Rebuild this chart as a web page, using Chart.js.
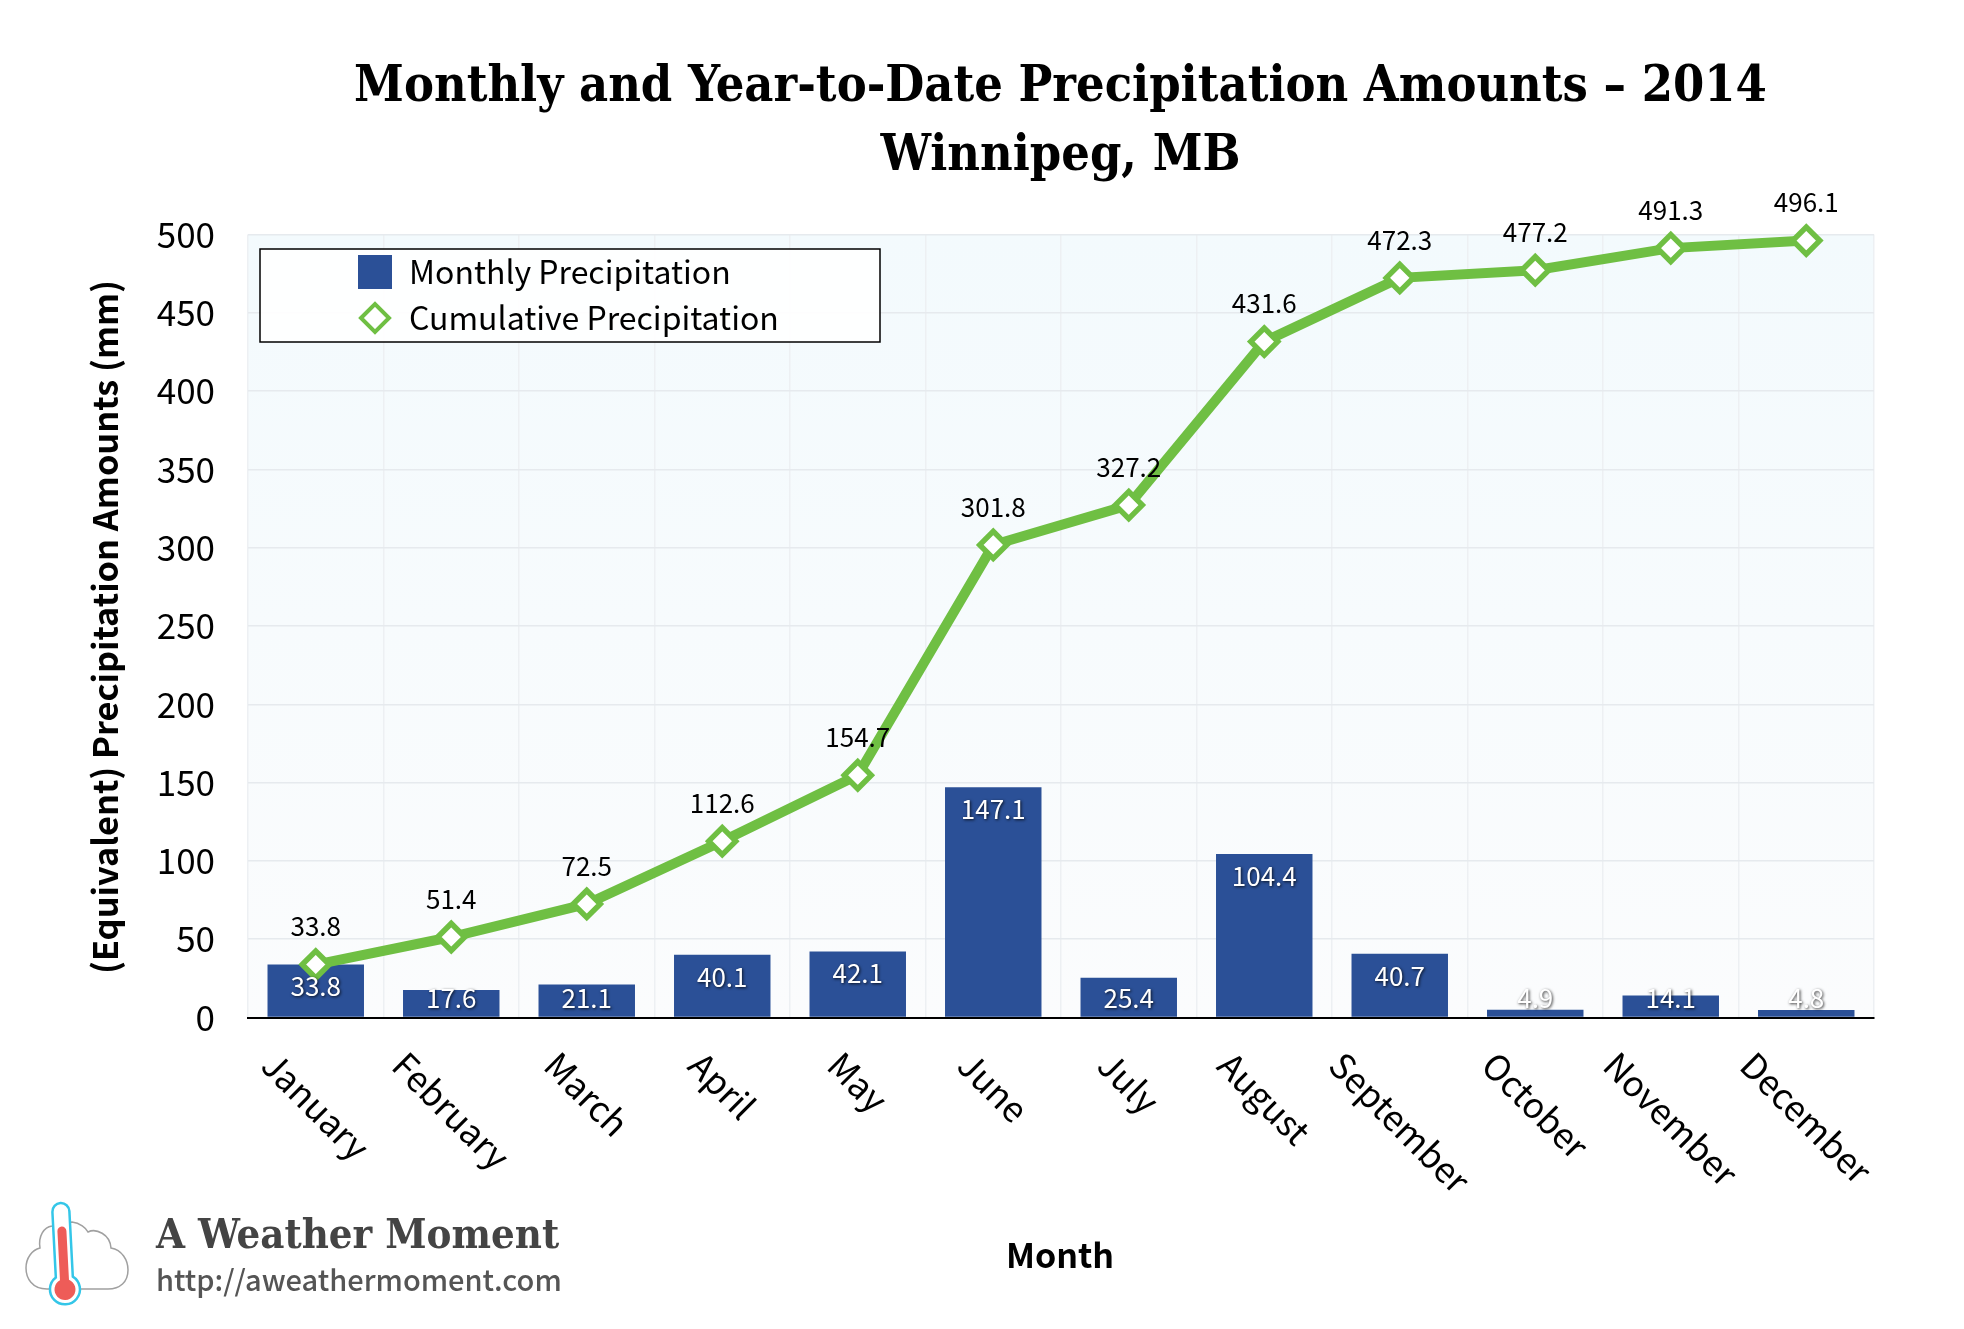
<!DOCTYPE html>
<html>
<head>
<meta charset="utf-8">
<title>Monthly and Year-to-Date Precipitation Amounts</title>
<script src="https://cdn.jsdelivr.net/npm/chart.js@4/dist/chart.umd.min.js"></script>
<style>
    html, body { margin: 0; padding: 0; background: #fff; }
    #wrap { position: relative; width: 1964px; height: 1329px; overflow: hidden; }
    #logo-icon { position: absolute; left: 10px; top: 1190px; }
    #logo-name, #logo-url { position: absolute; left: 156px; white-space: nowrap; }
    #logo-name { top: 1206px; font: bold 41.5px/56px 'DejaVu Serif Condensed', 'DejaVu Serif', serif; color: #444; }
    #logo-url { top: 1256px; font: 500 29px/44px 'Noto Sans CJK SC', sans-serif; color: #555; }
</style>
</head>
<body>
<div id="wrap">
    <canvas id="chart" width="1964" height="1329"></canvas>
    <svg id="logo-icon" width="140" height="130" viewBox="0 0 140 130">
        <path d="M37 99 C22 99 16 88 16 78 C16 68 22 60 30 58 C28 46 34 37 42 36 L62 32 C70 33 76 38 78 42 C86 38 100 44 101 58 C112 60 118 70 118 80 C118 92 110 99 98 99 Z" fill="#fff" stroke="#a0a0a0" stroke-width="1.5"/>
        <g transform="rotate(-3 55 100)">
            <path d="M46.5 21.5 a8.5 8.5 0 0 1 17 0 V87 a15 15 0 1 1 -17 0 Z" fill="#fff" stroke="#34c6e8" stroke-width="2.5"/>
            <path d="M50.5 41 a4.5 4.5 0 0 1 9 0 V90 a10.5 10.5 0 1 1 -9 0 Z" fill="#ee5c58"/>
        </g>
    </svg>
    <div id="logo-name">A Weather Moment</div>
    <div id="logo-url">http://aweathermoment.com</div>
</div>
<script>
const months = ['January', 'February', 'March', 'April', 'May', 'June', 'July', 'August', 'September', 'October', 'November', 'December'];
const monthly = [33.8, 17.6, 21.1, 40.1, 42.1, 147.1, 25.4, 104.4, 40.7, 4.9, 14.1, 4.8];
const cumulative = [33.8, 51.4, 72.5, 112.6, 154.7, 301.8, 327.2, 431.6, 472.3, 477.2, 491.3, 496.1];
const titleLines = ['Monthly and Year-to-Date Precipitation Amounts \u2013 2014', 'Winnipeg, MB'];

const sansFont = "'Noto Sans CJK SC', 'Noto Sans', sans-serif";
const blue = '#2b5097';
const green = '#6fbf43';

// plot background, pale blue fading downwards
const plotBackground = {
    id: 'plotBackground',
    beforeDraw(chart) {
        const { ctx, chartArea: a } = chart;
        const fill = ctx.createLinearGradient(0, a.top, 0, a.bottom);
        fill.addColorStop(0, '#f3fafd');
        fill.addColorStop(1, '#fbfcfd');
        ctx.save();
        ctx.fillStyle = fill;
        ctx.fillRect(a.left, a.top, a.right - a.left, a.bottom - a.top);
        ctx.restore();
    },
};

// value labels over the line points and inside the bars
const valueLabels = {
    id: 'valueLabels',
    afterDatasetsDraw(chart) {
        const { ctx } = chart;
        ctx.save();
        ctx.font = '26px ' + sansFont;
        ctx.textAlign = 'center';
        ctx.textBaseline = 'middle';

        chart.getDatasetMeta(0).data.forEach((bar, i) => {
            ctx.save();
            ctx.shadowColor = 'rgba(0, 0, 0, 0.8)';
            ctx.shadowBlur = 3;
            ctx.shadowOffsetX = 1;
            ctx.shadowOffsetY = 1;
            ctx.fillStyle = '#fff';
            ctx.fillText(monthly[i].toFixed(1), bar.x, Math.min(bar.y + 22, 998));
            ctx.restore();
        });

        ctx.fillStyle = '#000';
        chart.getDatasetMeta(1).data.forEach((pt, i) => {
            ctx.fillText(cumulative[i].toFixed(1), pt.x, pt.y - 38);
        });
        ctx.restore();
    },
};

// boxed legend sitting inside the plot
const boxLegend = {
    id: 'boxLegend',
    afterDraw(chart) {
        const { ctx } = chart;
        const sets = chart.data.datasets;
        ctx.save();
        ctx.fillStyle = 'rgba(255, 255, 255, 0.9)';
        ctx.fillRect(260, 249, 620, 93);
        ctx.strokeStyle = '#000';
        ctx.lineWidth = 1.5;
        ctx.strokeRect(260, 249, 620, 93);

        ctx.fillStyle = sets[0].backgroundColor;
        ctx.fillRect(358, 255, 34, 34);

        ctx.fillStyle = '#fff';
        ctx.strokeStyle = sets[1].borderColor;
        ctx.lineWidth = 4;
        Chart.helpers.drawPoint(ctx, {
            pointStyle: 'rectRot',
            radius: 14,
            borderWidth: 4,
        }, 375, 318);

        ctx.fillStyle = '#000';
        ctx.font = '32px ' + sansFont;
        ctx.textBaseline = 'middle';
        ctx.fillText(sets[0].label, 409, 272);
        ctx.fillText(sets[1].label, 409, 318);
        ctx.restore();
    },
};

// shift a scale title so it lines up with the reference
function nudgeTitle(scale, dx, dy) {
    if (scale.nudged) {
        return;
    }
    const drawTitle = scale.drawTitle;
    scale.drawTitle = function () {
        this.ctx.save();
        this.ctx.translate(dx, dy);
        drawTitle.call(this);
        this.ctx.restore();
    };
    scale.nudged = true;
}

// month labels are centred on the tick, slanted down to the right,
// with their top corners on one common line
function centreSlantedTicks(scale) {
    if (scale.slanted) {
        return;
    }
    const compute = scale._computeLabelItems;
    scale._computeLabelItems = function (area) {
        const items = compute.call(this, area);
        items.forEach((item, i) => {
            this.ctx.font = item.font.string;
            const width = this.ctx.measureText(item.label).width;
            const reach = (width + 26) * Math.SQRT1_2;
            item.textOffset = 0;
            item.options.textAlign = 'center';
            item.options.textBaseline = 'middle';
            item.options.translation = [this.getPixelForTick(i), this.bottom - this.height + 32 + reach / 2];
        });
        return items;
    };
    scale.slanted = true;
}

const chart = new Chart(document.getElementById('chart'), {
    data: {
        labels: months,
        datasets: [
            {
                type: 'bar',
                label: 'Monthly Precipitation',
                data: monthly,
                backgroundColor: blue,
                categoryPercentage: 1,
                barPercentage: 0.712,
                order: 2,
            },
            {
                type: 'line',
                label: 'Cumulative Precipitation',
                data: cumulative,
                borderColor: green,
                borderWidth: 10,
                tension: 0,
                clip: false,
                pointStyle: 'rectRot',
                pointRadius: 13.5,
                pointBackgroundColor: '#fff',
                pointBorderColor: green,
                pointBorderWidth: 5.5,
                order: 1,
            },
        ],
    },
    options: {
        responsive: false,
        animation: false,
        devicePixelRatio: 1,
        events: [],
        layout: {
            padding: { left: 70, right: 90, top: 0, bottom: 0 },
        },
        plugins: {
            legend: { display: false },
            tooltip: { enabled: false },
            title: {
                display: true,
                text: titleLines,
                color: '#000',
                font: { family: "'DejaVu Serif Condensed', 'DejaVu Serif', serif", size: 50, weight: 'bold', lineHeight: 1.38 },
                padding: { top: 54, bottom: 42.5 },
            },
        },
        scales: {
            x: {
                grid: { color: '#edf0f3', lineWidth: 1.5, drawTicks: false },
                border: { color: '#000', width: 2 },
                ticks: {
                    color: '#000',
                    font: { family: sansFont, size: 35 },
                    autoSkip: false,
                    minRotation: -45,
                    maxRotation: -45,
                },
                title: {
                    display: true,
                    text: 'Month',
                    color: '#000',
                    font: { family: sansFont, size: 34, weight: '700', lineHeight: 1.2 },
                    padding: { top: 0, bottom: 54 },
                },
                afterFit(scale) {
                    scale.height = 311.5;
                    nudgeTitle(scale, -1, 0);
                    centreSlantedTicks(scale);
                },
            },
            y: {
                min: 0,
                max: 500,
                grid: { color: '#e6eaee', lineWidth: 1.5, drawTicks: false },
                border: { display: false },
                ticks: {
                    stepSize: 50,
                    color: '#000',
                    padding: 33,
                    font: { family: sansFont, size: 35 },
                },
                title: {
                    display: true,
                    text: '(Equivalent) Precipitation Amounts (mm)',
                    color: '#000',
                    font: { family: sansFont, size: 34.3, weight: '700', lineHeight: 1.2 },
                    padding: { top: 14, bottom: 0 },
                },
                afterFit(scale) {
                    scale.width = 178;
                    nudgeTitle(scale, 0, 1);
                },
            },
        },
    },
    plugins: [plotBackground, valueLabels, boxLegend, {
        id: 'titleCentre',
        afterLayout(c) {
            // the title is centred a little right of the plot
            c.titleBlock.left = 247;
        },
    }],
});
</script>
</body>
</html>
